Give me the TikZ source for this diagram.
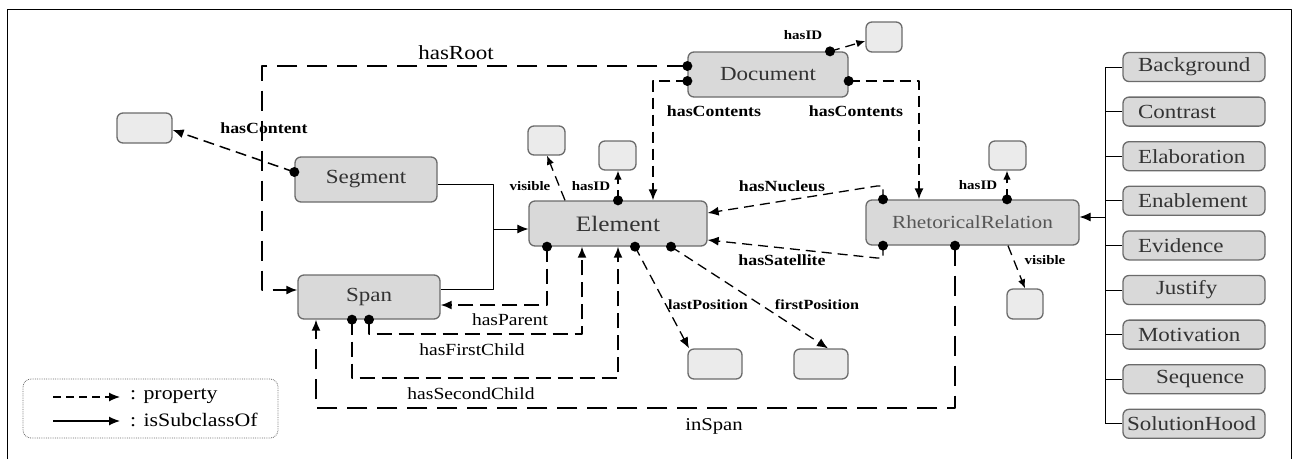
\documentclass[tikz,border=0pt]{standalone}
\usepackage{fontspec}
\setmainfont[FakeStretch=1.15]{Liberation Serif}
\usetikzlibrary{arrows.meta}
\definecolor{boxgray}{rgb}{0.85,0.85,0.85}
\definecolor{litegray}{rgb}{0.92,0.92,0.92}
\definecolor{edgegray}{rgb}{0.42,0.42,0.42}
\definecolor{txtgray}{rgb}{0.2,0.2,0.2}

\begin{document}
\begin{tikzpicture}[x=1pt,y=-1pt,line join=round,
  cls/.style={draw=edgegray,line width=1.3pt,fill=boxgray,rounded corners=6pt,inner sep=0pt,text=txtgray,font=\fontsize{20}{24}\selectfont},
  val/.style={draw=edgegray,line width=1.3pt,fill=litegray,rounded corners=6pt,inner sep=0pt},
  sc/.style={cls,minimum width=142,minimum height=29,text width=142,align=left},
  tip/.style={-{Latex[length=11pt,width=9pt]}},
  smalltip/.style={-{Latex[length=9pt,width=7.5pt]}},
  prop/.style={tip,line width=1.5pt,dash pattern=on 11pt off 6pt},
  thinprop/.style={tip,line width=1.3pt,dash pattern=on 10pt off 6pt},
  longprop/.style={tip,line width=1.8pt,dash pattern=on 20pt off 10pt},
  kidprop/.style={tip,line width=1.8pt,dash pattern=on 15pt off 7pt},
  sub/.style={tip,line width=0.9pt},
  lbl/.style={inner sep=0pt,font=\bfseries\fontsize{15.5}{18}\selectfont},
  smlbl/.style={inner sep=0pt,font=\bfseries\fontsize{13}{15}\selectfont},
  plainlbl/.style={inner sep=0pt,font=\fontsize{17}{20}\selectfont}]
	\useasboundingbox (0,0) rectangle (1295,459);
	\draw [line width=1pt] (7,459) -- (7,9) -- (1291,9) -- (1291,459);

	% classes
	\node [cls,minimum width=160,minimum height=45] (doc) at (768,74.5) {Document};
	\node [cls,minimum width=142,minimum height=45] (seg) at (366,179.5) {Segment};
	\node [cls,minimum width=142,minimum height=44] (span) at (369,297) {Span};
	\node [cls,minimum width=178,minimum height=45,font=\fontsize{22}{26}\selectfont] (el) at (618,223.5) {Element};
	\node [cls,minimum width=213,minimum height=45,text=edgegray!80!black,font=\fontsize{18.5}{22}\selectfont] (rr) at (972.5,222.5) {RhetoricalRelation};

	% value boxes
	\node [val,minimum width=36,minimum height=30] (docid) at (884,37) {};
	\node [val,minimum width=55,minimum height=30] (content) at (144.5,128) {};
	\node [val,minimum width=37,minimum height=29] (elvis) at (546.5,140.5) {};
	\node [val,minimum width=37,minimum height=29] (elid) at (617.5,155.5) {};
	\node [val,minimum width=37,minimum height=29] (rrid) at (1007.5,155.5) {};
	\node [val,minimum width=36,minimum height=30] (rrvis) at (1025,304) {};
	\node [val,minimum width=54,minimum height=30] (lastpos) at (715,364) {};
	\node [val,minimum width=54,minimum height=30] (firstpos) at (821,364) {};

	% subclasses of RhetoricalRelation
	\coordinate (trunktop) at (1105,67);
	\coordinate (trunkbot) at (1105,424);
	\foreach \txt/\pad [count=\i from 0] in {Background/15,Contrast/15,Elaboration/15,Enablement/15,Evidence/15,Justify/33,Motivation/15,Sequence/33,SolutionHood/4}
	{
		\node [sc] (sc\i) at (1194,67+44.6*\i) {\hspace*{\pad pt}\txt};
		\draw [line width=0.9pt] (sc\i.west) -- (sc\i.west -| trunktop);
	}
	\draw [line width=0.9pt] (trunktop) -- (trunkbot);
	\coordinate (rrjoin) at (1105,217);
	\draw [sub] (rrjoin) -- (rrjoin -| rr.east);

	% subclasses of Element
	\coordinate (eljoin) at (493,229);
	\draw [line width=0.9pt] (seg.east |- 0,184) -| (eljoin);
	\draw [line width=0.9pt] (span.east |- 0,289) -| (eljoin);
	\draw [sub] (eljoin) -- (eljoin -| el.west);

	% property start points
	\coordinate (docL1) at (doc.west |- 0,66);
	\coordinate (docL2) at (doc.west |- 0,81);
	\coordinate (docR) at (doc.east |- 0,81);
	\coordinate (docT) at (doc.north -| 830,0);
	\coordinate (segL) at (seg.west |- 0,172);
	\coordinate (elB1) at (el.south -| 547,0);
	\coordinate (elB2) at (el.south -| 635,0);
	\coordinate (elB3) at (el.south -| 671,0);
	\coordinate (elT) at (el.north -| 618,0);
	\coordinate (spanB1) at (span.south -| 352,0);
	\coordinate (spanB2) at (span.south -| 369,0);
	\coordinate (rrT1) at (rr.north -| 883,0);
	\coordinate (rrT2) at (rr.north -| 1007,0);
	\coordinate (rrB1) at (rr.south -| 883,0);
	\coordinate (rrB2) at (rr.south -| 955,0);

	% properties
	\draw [longprop] (docL1) -| (262,290) -- (span.west |- 0,290);
	\draw [prop] (docL2) -| (el.north -| 653,0);
	\draw [prop] (docR) -| (rr.north -| 919,0);
	\draw [thinprop,smalltip] (docT) -- (docid.west |- 0,41);
	\draw [prop] (segL) -- (content.east |- 0,130);
	\draw [kidprop] (elB1) |- (span.east |- 0,305);
	\draw [kidprop] (spanB2) |- (582,334) -- (el.south -| 582,0);
	\draw [kidprop] (spanB1) |- (618,378) -- (el.south -| 618,0);
	\draw [longprop] (rrB2) |- (316,408) -- (span.south -| 316,0);
	\draw [thinprop] (elB2) -- (lastpos.north -| 689,0);
	\draw [thinprop] (elB3) -- (firstpos.north -| 828,0);
	\draw [thinprop] (rrT1) -- (883,186) -- (877,186) -- (el.east |- 0,213);
	\draw [thinprop] (rrB1) -- (883,258) -- (877,258) -- (el.east |- 0,240);
	\draw [thinprop,smalltip] (elT) -- (elid.south -| elT);
	\draw [thinprop,smalltip] (el.north -| 565,0) -- (elvis.south -| 547,0);
	\draw [thinprop,smalltip] (rrT2) -- (rrid.south -| rrT2);
	\draw [thinprop,smalltip] (rr.south -| 1008,0) -- (rrvis.north -| 1025,0);
	\foreach \p in {docL1,docL2,docR,docT,segL,elB1,elB2,elB3,elT,spanB1,spanB2,rrT1,rrT2,rrB1,rrB2}
		\fill (\p) circle (5pt);

	% labels
	\node [inner sep=0pt,font=\fontsize{20}{24}\selectfont] (lroot) at (456,53) {hasRoot};
	\node [lbl] (lcontent) at (264,128) {hasContent};
	\node [smlbl] (ldocid) at (803,35) {hasID};
	\node [lbl] (lcontsL) at (714,111) {hasContents};
	\node [lbl] (lcontsR) at (856,111) {hasContents};
	\node [smlbl] (lelvis) at (530,186) {visible};
	\node [smlbl] (lelid) at (591,186) {hasID};
	\node [lbl] (lnuc) at (782,186) {hasNucleus};
	\node [lbl] (lsat) at (782,260) {hasSatellite};
	\node [smlbl] (lrrid) at (978,185) {hasID};
	\node [smlbl] (lrrvis) at (1045,260) {visible};
	\node [lbl,font=\bfseries\fontsize{14}{16}\selectfont] (llast) at (708,305) {lastPosition};
	\node [lbl,font=\bfseries\fontsize{14}{16}\selectfont] (lfirst) at (817,305) {firstPosition};
	\node [plainlbl] (lparent) at (510,320) {hasParent};
	\node [plainlbl] (lfirstkid) at (472,350) {hasFirstChild};
	\node [plainlbl] (lsecondkid) at (471,394) {hasSecondChild};
	\node [plainlbl,font=\fontsize{18}{21}\selectfont] (lspan) at (714,426) {inSpan};

	% legend
	\node [draw=edgegray,densely dotted,line width=0.8pt,rounded corners=8pt,minimum width=255,minimum height=59] (legend) at (150.5,408.5) {};
	\coordinate (lgA) at (53,397);
	\coordinate (lgB) at (53,421);
	\draw [tip,line width=1.2pt,dash pattern=on 8pt off 5pt] (lgA) -- ++(67,0);
	\draw [sub,line width=1.2pt] (lgB) -- ++(67,0);
	\node [anchor=west,inner sep=0pt,font=\fontsize{19}{22}\selectfont] (lgprop) at (130,396) {: property};
	\node [anchor=west,inner sep=0pt,font=\fontsize{19}{22}\selectfont] (lgsub) at (130,420) {: isSubclassOf};
\end{tikzpicture}
\end{document}
